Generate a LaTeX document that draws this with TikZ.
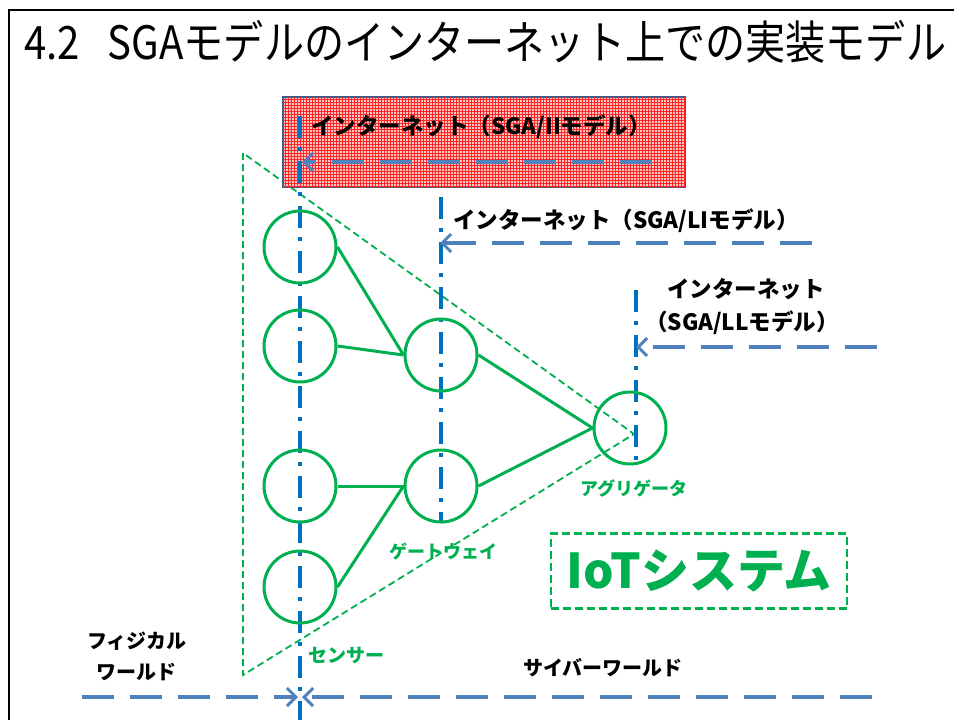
\documentclass[tikz,border=0pt]{standalone}
\usepackage{fontspec}
\usepackage{graphicx}
\setmainfont{Noto Sans CJK JP}
\usetikzlibrary{arrows.meta,patterns}

\definecolor{netblue}{HTML}{4F81BD}
\definecolor{axisblue}{HTML}{0070C0}
\definecolor{iotgreen}{HTML}{00B050}
\definecolor{boxedge}{HTML}{385D8A}
\definecolor{boxpink}{HTML}{FFC4C4}

\newcommand{\fsz}[1]{\fontsize{#1pt}{#1pt}\selectfont}

\tikzset{
  unit/.style={circle, draw=iotgreen, line width=3pt, minimum size=72pt, inner sep=0pt},
  link/.style={draw=iotgreen, line width=3pt},
  axis/.style={draw=axisblue, line width=4pt, dash pattern=on 22pt off 9pt on 4pt off 10pt},
  flow/.style={draw=netblue, line width=4.5pt, dash pattern=on 32pt off 16pt,
    -{Straight Barb[length=9pt,width=18pt,line width=3pt]}},
  hull/.style={draw=iotgreen, line width=1.8pt, dash pattern=on 7pt off 4pt},
  netlabel/.style={inner sep=0pt, font=\fsz{22.5}\bfseries, text=black},
  worldlabel/.style={inner sep=0pt, font=\fsz{20}\bfseries, text=black, align=center},
  rolelabel/.style={inner sep=0pt, font=\fsz{18}\bfseries, text=iotgreen},
}

\begin{document}
\begin{tikzpicture}[x=1pt, y=-1pt]
\useasboundingbox (0,0) rectangle (954,720);

% slide frame
\draw[line width=2pt] (9,720) -- (9,10) -- (954,10);

% title, set in a narrowed face
\node[anchor=west, inner sep=0pt, font=\fsz{46}] (title) at (24,42)
  {\resizebox{922pt}{\height}{4.2\hspace{0.7em}SGAモデルのインターネット上での実装モデル}};

% boundary of the IoT system
\coordinate (h1) at (243,153);
\coordinate (h2) at (243,675);
\coordinate (h3) at (634,434);
\draw[hull] (h1) -- (h2) -- (h3) -- cycle;

% Internet layer box (SGA/II)
\node[draw=boxedge, line width=2.5pt, fill=boxpink,
      postaction={pattern=grid, pattern color=red!85},
      minimum width=402pt, minimum height=90pt, inner sep=0pt] (ii) at (484,142) {};

% vertical tiers
\coordinate (s-top) at (300,116);
\coordinate (s-bot) at (300,720);
\coordinate (g-top) at (441,197);
\coordinate (g-bot) at (441,521);
\coordinate (a-top) at (636,290);
\coordinate (a-bot) at (636,463);
\draw[axis] (s-top) -- (s-bot);
\draw[axis] (g-top) -- (g-bot);
\draw[axis] (a-top) -- (a-bot);

% sensors, gateways and aggregator
\node[unit] (s1) at (300,247) {};
\node[unit] (s2) at (300,346) {};
\node[unit] (s3) at (300,486) {};
\node[unit] (s4) at (300,587) {};
\node[unit] (g1) at (441,355) {};
\node[unit] (g2) at (441,486) {};
\node[unit] (ag) at (630,428) {};

\draw[link] (s1.east) -- (g1.west);
\draw[link] (s2.east) -- (g1.west);
\draw[link] (s3.east) -- (g2.west);
\draw[link] (s4.east) -- (g2.west);
\draw[link] (g1.east) -- (ag.west);
\draw[link] (g2.east) -- (ag.west);

% Internet attachment points
\node[netlabel] (ii-text) at (481,127) {インターネット（SGA/IIモデル）};
\coordinate (ii-from) at (652,162);
\coordinate (ii-to) at (302,162);
\draw[flow] (ii-from) -- (ii-to);

\node[netlabel, anchor=west] (li-text) at (453,221) {インターネット（SGA/LIモデル）};
\coordinate (li-from) at (812,243);
\coordinate (li-to) at (440,243);
\draw[flow] (li-from) -- (li-to);

\node[netlabel, anchor=west] (ll-text1) at (667,289) {インターネット};
\node[netlabel, anchor=west] (ll-text2) at (645,323) {（SGA/LLモデル）};
\coordinate (ll-from) at (877,347);
\coordinate (ll-to) at (636,347);
\draw[flow] (ll-from) -- (ll-to);

% role labels
\node[rolelabel, anchor=west, font=\fsz{19}\bfseries] (sensor-lbl) at (308,656) {センサー};
\node[rolelabel] (gw-lbl) at (443,551) {ゲートウェイ};
\node[rolelabel] (ag-lbl) at (634,488) {アグリゲータ};

% IoT system tag
\node[draw=iotgreen, line width=2.5pt, dash pattern=on 8pt off 4pt,
      minimum width=296pt, minimum height=75pt, inner sep=0pt,
      text=iotgreen, font=\fsz{48}\bfseries] (iot) at (699,571) {IoTシステム};

% physical / cyber boundary
\node[worldlabel] (phys) at (137,656) {フィジカル\\[11pt]ワールド};
\node[worldlabel] (cyber) at (603,668) {サイバーワールド};
\coordinate (pw-from) at (82,697);
\coordinate (pw-to) at (298,697);
\coordinate (cw-from) at (872,697);
\coordinate (cw-to) at (302,697);
\draw[flow] (pw-from) -- (pw-to);
\draw[flow] (cw-from) -- (cw-to);
\end{tikzpicture}
\end{document}
